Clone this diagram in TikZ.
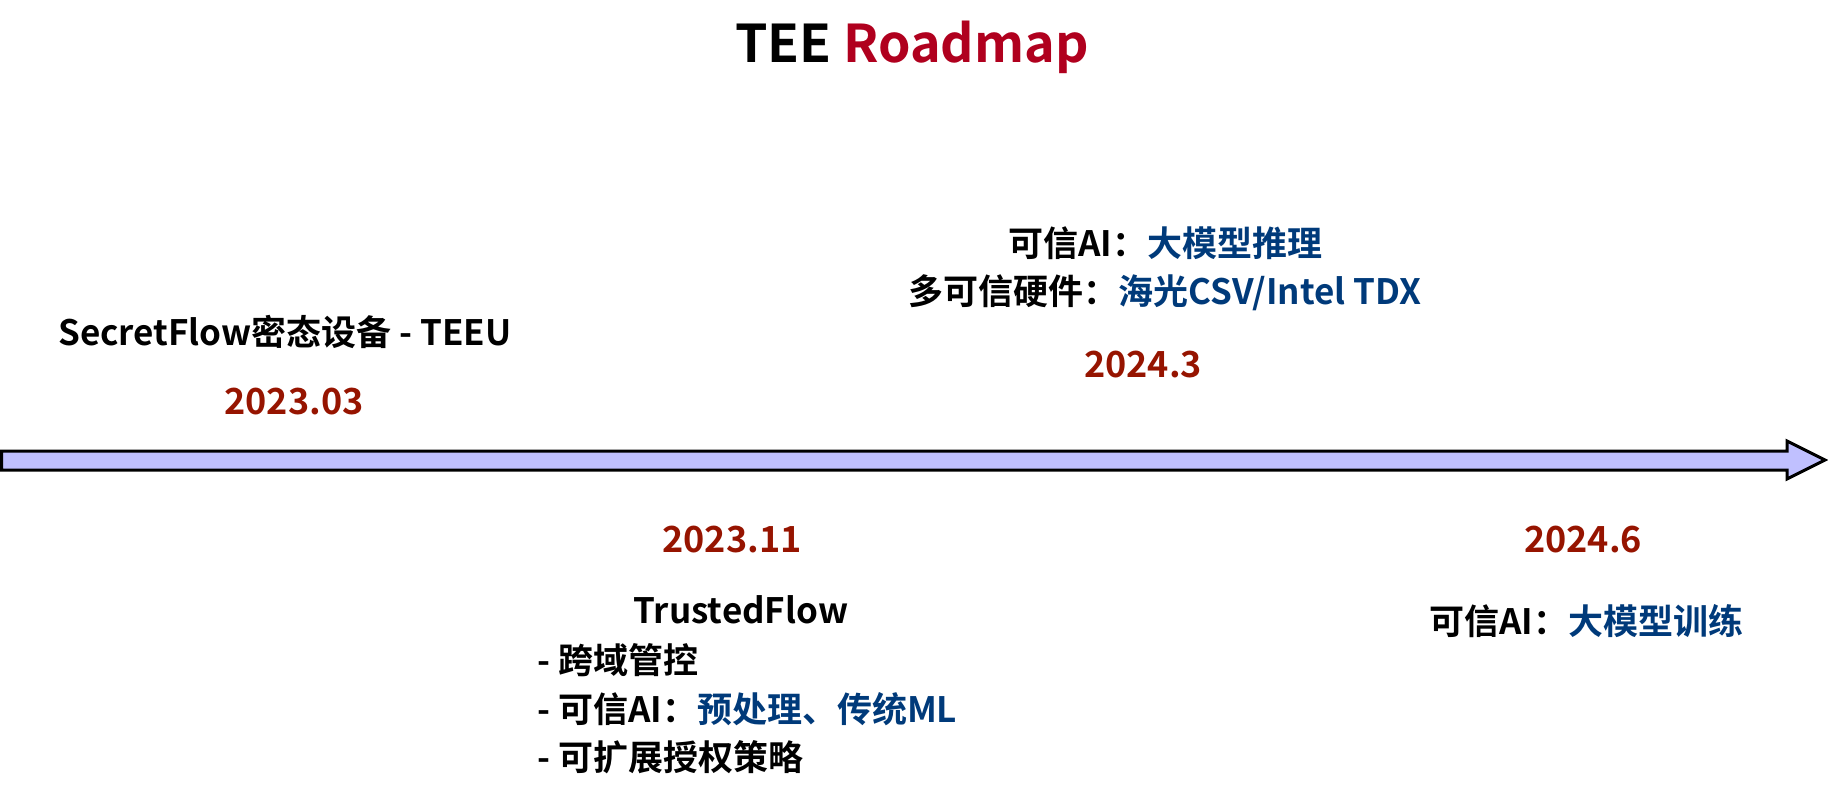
\documentclass[tikz,border=0pt]{standalone}
\usepackage{fontspec}
\setmainfont{Noto Sans CJK SC}[BoldFont={Noto Sans CJK SC Bold}]
\definecolor{datered}{RGB}{150,20,0}
\definecolor{titlered}{RGB}{176,0,30}
\definecolor{itemblue}{RGB}{0,58,122}
\definecolor{arrowfill}{RGB}{192,192,255}
\tikzset{
  lbl/.style={font=\fontsize{35}{42}\selectfont\bfseries, inner sep=0pt, text=black},
  datelbl/.style={font=\fontsize{36}{42}\selectfont\bfseries, inner sep=0pt, text=datered},
  titlelbl/.style={font=\fontsize{52}{60}\selectfont\bfseries, inner sep=0pt},
  timeline/.style={draw=black, line width=3pt, fill=arrowfill, line join=miter},
}
\begin{document}
\begin{tikzpicture}[x=1pt,y=-1pt]
\useasboundingbox (0,0) rectangle (1828,794);
% timeline arrow
\draw[timeline] (1.5,451) -- (1787,451) -- (1787,441) -- (1825,460) -- (1787,479) -- (1787,470) -- (1.5,470) -- cycle;
% title
\node[titlelbl] (title) at (912,47) {TEE \textcolor{titlered}{Roadmap}};
% 2023.03
\node[lbl] (teeu) at (285,332) {SecretFlow密态设备 - TEEU};
\node[datelbl] (d1) at (294,402) {2023.03};
% 2024.3
\node[lbl] (ai1) at (1165,243) {可信AI：\textcolor{itemblue}{大模型推理}};
\node[lbl] (hw) at (1165,293) {多可信硬件：\textcolor{itemblue}{海光CSV/Intel TDX}};
\node[datelbl] (d3) at (1143,365) {2024.3};
% 2023.11
\node[datelbl] (d2) at (732,540) {2023.11};
\node[lbl] (tf) at (741,610) {TrustedFlow};
\node[lbl, anchor=west] (l1) at (537,660) {- 跨域管控};
\node[lbl, anchor=west] (l2) at (537,709) {- 可信AI：\textcolor{itemblue}{预处理、传统ML}};
\node[lbl, anchor=west] (l3) at (537,757) {- 可扩展授权策略};
% 2024.6
\node[datelbl] (d4) at (1583,540) {2024.6};
\node[lbl] (ai2) at (1586,621) {可信AI：\textcolor{itemblue}{大模型训练}};
\end{tikzpicture}
\end{document}
